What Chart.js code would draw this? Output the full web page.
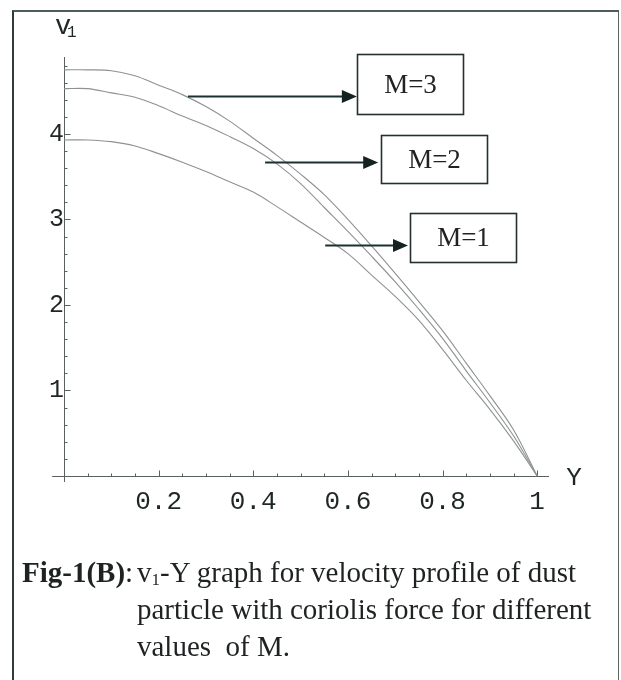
<!DOCTYPE html>
<html>
<head>
<meta charset="utf-8">
<script src="https://cdn.jsdelivr.net/npm/chart.js@4.4.1/dist/chart.umd.min.js"></script>
<style>
  html, body { margin: 0; padding: 0; background: #fff; }
  #page { position: relative; width: 621px; height: 680px; overflow: hidden; }
  #frame {
    position: absolute; left: 12px; top: 10px; width: 604px; height: 700px;
    border-left: 2px solid #2f3a3a; border-top: 2px solid #4d5c5c; border-right: 1px solid #5a6464;
  }
  #main { position: absolute; left: 0; top: 0; }
  #caption {
    position: absolute; left: 22px; top: 554px; display: flex;
    font-family: "Liberation Serif", "Times New Roman", serif; font-size: 29px; line-height: 37px; color: #1e2222;
  }
  #caption .lead { width: 115px; white-space: nowrap; }
  #caption .body { white-space: nowrap; }
  #caption sub { font-size: 17px; vertical-align: -3px; line-height: 0; }
</style>
</head>
<body>
<div id="page">
  <div id="frame"></div>
  <canvas id="main" width="621" height="680"></canvas>
  <div id="caption">
    <div class="lead"><b>Fig-1(B)</b>:</div>
    <div class="body">v<sub>1</sub>-Y graph for velocity profile of dust<br>particle with coriolis force for different<br>values&nbsp; of M.</div>
  </div>
</div>
<script>
// Y (horizontal) coordinate of the sampled points
const yCoord = [0, 0.05, 0.1, 0.15, 0.2, 0.25, 0.3, 0.35, 0.4, 0.45, 0.5,
                0.55, 0.6, 0.65, 0.7, 0.75, 0.8, 0.85, 0.9, 0.95, 1]

// v1
const m1 = [3.93, 3.93, 3.91, 3.86, 3.77, 3.67, 3.56, 3.44, 3.32, 3.15, 2.97,
            2.79, 2.60, 2.35, 2.10, 1.82, 1.48, 1.12, 0.78, 0.41, 0]
const m2 = [4.53, 4.53, 4.48, 4.43, 4.33, 4.21, 4.10, 3.97, 3.83, 3.65, 3.42,
            3.14, 2.86, 2.57, 2.27, 1.95, 1.61, 1.23, 0.86, 0.47, 0]
const m3 = [4.75, 4.75, 4.74, 4.68, 4.57, 4.46, 4.32, 4.15, 3.95, 3.75, 3.53,
            3.29, 3.00, 2.69, 2.37, 2.04, 1.70, 1.32, 0.94, 0.54, 0]

const seriesNames = ['M=1', 'M=2', 'M=3']

const xTicks = [0.2, 0.4, 0.6, 0.8, 1]
const xTickLabels = ['0.2', '0.4', '0.6', '0.8', '1']
const vTicks = [1, 2, 3, 4]
const vTickLabels = ['1', '2', '3', '4']

// boxed labels with arrows (arrow tail in data units, box offsets in px)
const notes = [
    { text: 'M=3', tail: [0.262, 4.44], tip: 0.619, dx: 0, dy: -43, w: 106, h: 60 },
    { text: 'M=2', tail: [0.425, 3.67], tip: 0.664, dx: 3, dy: -28, w: 106, h: 48 },
    { text: 'M=1', tail: [0.552, 2.70], tip: 0.727, dx: 2, dy: -33, w: 106, h: 49 }
]

const monoFont = '"Liberation Mono", "Courier New", monospace'
const serifFont = '"Liberation Serif", "Times New Roman", serif'

const toPoints = vals => yCoord.map((y, i) => ({ x: y, y: vals[i] }))

const mathAxes = {
    id: 'mathAxes',
    beforeDatasetsDraw(chart) {
        const ctx = chart.ctx
        const xs = chart.scales.x
        const ys = chart.scales.y
        const x0 = Math.round(xs.getPixelForValue(0)) + 0.5
        const y0 = Math.round(ys.getPixelForValue(0)) + 0.5
        ctx.save()
        ctx.strokeStyle = '#5a5f5f'
        ctx.lineWidth = 1
        ctx.beginPath()
        ctx.moveTo(xs.getPixelForValue(-0.025), y0)
        ctx.lineTo(chart.chartArea.right, y0)
        ctx.moveTo(x0, ys.getPixelForValue(-0.07))
        ctx.lineTo(x0, chart.chartArea.top)
        for (let i = 1; i <= 20; i++) {
            const px = Math.round(xs.getPixelForValue(i * 0.05)) + 0.5
            const len = i % 4 === 0 ? 6 : 3
            ctx.moveTo(px, y0)
            ctx.lineTo(px, y0 - len)
        }
        for (let i = 1; i <= 24; i++) {
            const py = Math.round(ys.getPixelForValue(i * 0.2)) + 0.5
            const len = i % 5 === 0 ? 6 : 3
            ctx.moveTo(x0, py)
            ctx.lineTo(x0 + len, py)
        }
        ctx.stroke()
        ctx.restore()
    },
    afterDraw(chart) {
        const ctx = chart.ctx
        const xs = chart.scales.x
        const ys = chart.scales.y
        const x0 = xs.getPixelForValue(0)
        const y0 = ys.getPixelForValue(0)
        ctx.save()

        // axis names
        ctx.fillStyle = '#1e2626'
        ctx.textBaseline = 'alphabetic'
        ctx.textAlign = 'left'
        ctx.font = '27px ' + monoFont
        ctx.fillText('v', x0 - 9, chart.chartArea.top - 23)
        ctx.font = '16px ' + monoFont
        ctx.fillText('1', x0 + 3, chart.chartArea.top - 20)
        ctx.font = '26px ' + monoFont
        ctx.textAlign = 'center'
        ctx.textBaseline = 'middle'
        ctx.fillText('Y', xs.getPixelForValue(1) + 37, y0 + 2)

        // arrows and boxes
        notes.forEach(n => {
            const ay = Math.round(ys.getPixelForValue(n.tail[1])) + 0.5
            const ax = xs.getPixelForValue(n.tail[0])
            const tx = xs.getPixelForValue(n.tip)
            ctx.strokeStyle = '#1c3030'
            ctx.fillStyle = '#152222'
            ctx.lineWidth = 2
            ctx.beginPath()
            ctx.moveTo(ax, ay)
            ctx.lineTo(tx - 10, ay)
            ctx.stroke()
            ctx.beginPath()
            ctx.moveTo(tx, ay)
            ctx.lineTo(tx - 15, ay - 6.5)
            ctx.lineTo(tx - 15, ay + 6.5)
            ctx.closePath()
            ctx.fill()

            const bx = Math.round(tx + n.dx) + 0.5
            const by = Math.round(ay + n.dy) + 0.5
            ctx.strokeStyle = '#243030'
            ctx.lineWidth = 1.6
            ctx.strokeRect(bx, by, n.w, n.h)
            ctx.fillStyle = '#222'
            ctx.font = '27px ' + serifFont
            ctx.textAlign = 'center'
            ctx.textBaseline = 'middle'
            ctx.fillText(n.text, bx + n.w / 2, by + n.h / 2 + 1)
        })
        ctx.restore()
    }
}

const canvas = document.querySelector('#main')
const ctx = canvas.getContext('2d')

const chart = new Chart(ctx, {
    type: 'line',
    data: {
        datasets: [m1, m2, m3].map((vals, i) => ({
            label: seriesNames[i],
            data: toPoints(vals),
            borderColor: '#8e9292',
            backgroundColor: 'transparent',
            borderWidth: 1.1,
            pointRadius: 0,
            tension: 0.35,
            clip: false
        }))
    },
    options: {
        responsive: false,
        animation: false,
        layout: { padding: { top: 57, right: 72, left: 0, bottom: 0 } },
        plugins: { legend: { display: false }, tooltip: { enabled: false } },
        scales: {
            x: {
                type: 'linear',
                min: 0,
                max: 1.025,
                grid: { display: false, drawTicks: false },
                border: { display: false },
                afterFit: scale => { scale.height = 204 },
                afterBuildTicks: scale => { scale.ticks = xTicks.map(v => ({ value: v })) },
                ticks: {
                    autoSkip: false,
                    maxRotation: 0,
                    padding: 11,
                    color: '#1e2626',
                    font: { family: monoFont, size: 26 },
                    callback: v => xTickLabels[xTicks.indexOf(v)]
                }
            },
            y: {
                type: 'linear',
                min: 0,
                max: 4.9,
                grid: { display: false, drawTicks: false },
                border: { display: false },
                afterFit: scale => { scale.width = 64 },
                afterBuildTicks: scale => { scale.ticks = vTicks.map(v => ({ value: v })) },
                ticks: {
                    autoSkip: false,
                    padding: 0,
                    color: '#1e2626',
                    font: { family: monoFont, size: 25 },
                    callback: v => vTickLabels[vTicks.indexOf(v)]
                }
            }
        }
    },
    plugins: [mathAxes]
})
</script>
</body>
</html>
